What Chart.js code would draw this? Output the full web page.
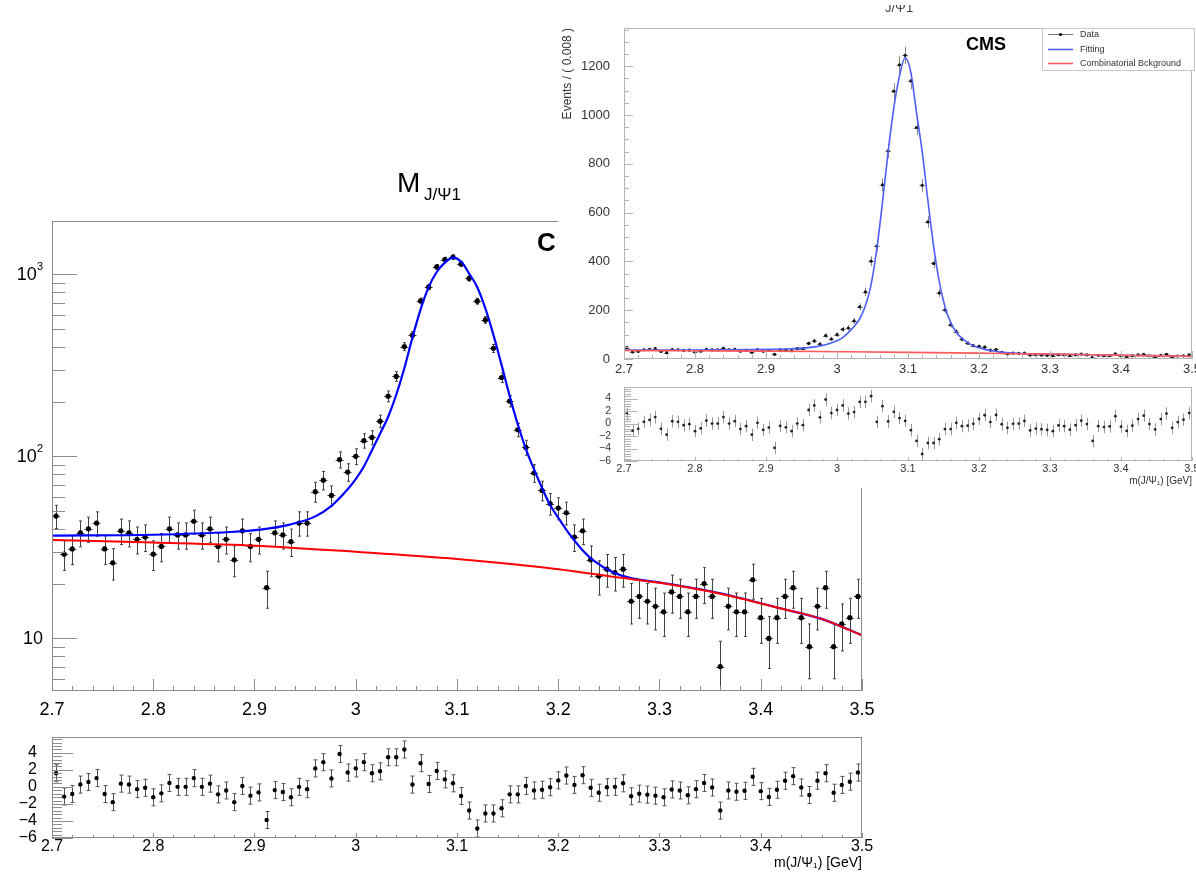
<!DOCTYPE html>
<html>
<head>
<meta charset="utf-8">
<script src="https://cdn.jsdelivr.net/npm/chart.js@4.4.1/dist/chart.umd.min.js"></script>
<style>
  html, body { margin: 0; padding: 0; background: #fff; overflow: hidden; }
  body { width: 1196px; height: 879px; position: relative; }
  .pad { position: absolute; }
  #inset { position: absolute; left: 558px; top: 0; width: 652px; height: 488px; background: #fff; }
</style>
</head>
<body>
<div class="pad" style="left:0;top:0"><canvas id="mainFit" width="900" height="720"></canvas></div>
<div class="pad" style="left:0;top:720px"><canvas id="mainPull" width="900" height="159"></canvas></div>
<div id="inset">
  <div class="pad" style="left:0;top:0"><canvas id="insetFit" width="652" height="380"></canvas></div>
  <div class="pad" style="left:0;top:375px"><canvas id="insetPull" width="652" height="113"></canvas></div>
</div>
<script>
"use strict";

const fontFamily = '"Liberation Sans", Arial, Helvetica, sans-serif';
Chart.defaults.font.family = fontFamily;

// histogram binning of m(J/psi_1)
const massMin = 2.7;
const massMax = 3.5;
const binWidth = 0.008;

// events per bin
const events = [
  47, 29, 31, 38, 40, 43, 31, 26, 39, 38,
  35, 36, 29, 32, 40, 37, 37, 44, 37, 40,
  32, 35, 27, 39, 32, 35, 19, 38, 37, 34,
  43, 43, 64, 74, 61, 96, 82, 100, 122, 127,
  156, 214, 275, 401, 463, 714, 853, 1098, 1206, 1245,
  1140, 949, 712, 562, 392, 271, 201, 140, 112, 81,
  65, 55, 52, 49, 36, 39, 27, 22, 24, 23,
  24, 16, 17, 16, 15, 14, 18, 17, 14, 17,
  20, 17, 7, 15, 14, 14, 21, 13, 10, 13,
  17, 19, 13, 9, 15, 19, 9, 12, 13, 17
];

// pull per bin
const pulls = [
  1.6, -1.14, -0.84, 0.27, 0.57, 1.03, -0.84, -1.79, 0.38, 0.27,
  -0.27, -0.11, -1.22, -0.76, 0.46, 0, 0, 1.03, 0, 0.38,
  -0.88, -0.42, -1.79, 0.11, -1.03, -0.65, -3.89, -0.38, -0.61, -1.22,
  0, -0.27, 2.17, 2.9, 0.99, 3.85, 1.68, 2.17, 2.9, 1.6,
  1.83, 3.47, 3.47, 4.38, 0.27, 2.78, 0.34, 1.87, 0.88, 0.42,
  -1.07, -2.78, -4.88, -3.12, -3.12, -2.51, -0.88, -0.88, 0.11, -0.42,
  -0.34, -0.04, 0.76, 1.33, 0.23, 1.37, -0.11, -0.69, -0.04, 0,
  0.42, -1.1, -0.8, -0.91, -1.03, -1.22, -0.3, -0.42, -0.99, -0.27,
  0.46, -0.08, -2.78, -0.42, -0.57, -0.46, 1.18, -0.5, -1.18, -0.34,
  0.72, 1.26, -0.08, -0.95, 0.72, 1.6, -0.69, 0.23, 0.61, 1.68
];

// total fit curve
const fitMass = [
  2.70, 2.80, 2.876, 2.906, 2.935, 2.96, 2.976, 2.992, 3.000, 3.008,
  3.016, 3.024, 3.032, 3.040, 3.048, 3.056, 3.064, 3.072, 3.080, 3.088,
  3.096, 3.104, 3.112, 3.120, 3.128, 3.136, 3.144, 3.152, 3.160, 3.168,
  3.176, 3.184, 3.192, 3.200, 3.208, 3.216, 3.224, 3.234, 3.254, 3.274,
  3.30, 3.36, 3.42, 3.46, 3.50
];
const fitEvents = [
  36.7, 37.1, 38.4, 39.6, 42.2, 46.8, 53.5, 66, 75, 88,
  108, 133, 165, 218, 305, 450, 640, 850, 1030, 1160,
  1235, 1175, 1010, 850, 650, 465, 318, 215, 150, 110,
  85, 67, 54, 46, 39.5, 34.5, 30.5, 27, 23.1, 21.3,
  20.3, 17.7, 14.6, 12.8, 10.4
];

// combinatorial background curve
const bkgMass = [2.70, 2.80, 2.90, 3.00, 3.10, 3.20, 3.26, 3.30, 3.36, 3.42, 3.46, 3.50];
const bkgEvents = [34.7, 33.6, 32.3, 29.9, 27.3, 24.0, 21.6, 20.2, 17.6, 14.6, 12.8, 10.4];

// axis ticks
const massTicks = [2.7, 2.8, 2.9, 3.0, 3.1, 3.2, 3.3, 3.4, 3.5];
const massTickLabels = ["2.7", "2.8", "2.9", "3", "3.1", "3.2", "3.3", "3.4", "3.5"];
const logTicks = [10, 100, 1000];
const logTickExponents = ["", "2", "3"];
const linearEventTicks = [0, 200, 400, 600, 800, 1000, 1200];
const pullTicks = [-6, -4, -2, 0, 2, 4];

function steps(from, to, step) {
  const out = [];
  for (let v = from; v <= to + 1e-9; v += step) out.push(+v.toFixed(6));
  return out;
}

const binCenters = events.map((_, i) => massMin + binWidth * (i + 0.5));
const dataPoints = binCenters.map((m, i) => ({ x: m, y: events[i] }));
const pullPoints = binCenters.map((m, i) => ({ x: m, y: pulls[i] }));
const fitPoints = fitMass.map((m, i) => ({ x: m, y: fitEvents[i] }));
const bkgPoints = bkgMass.map((m, i) => ({ x: m, y: bkgEvents[i] }));

const logMinor = [];
for (const d of [1, 10, 100]) for (let k = 2; k <= 9; k++) logMinor.push(k * d);

const minusSign = (v) => String(v).replace("-", "\u2212");

// frame box and inward ROOT-style ticks
function frameAndTicks(spec) {
  return {
    id: "frameAndTicks",
    afterDatasetsDraw(chart) {
      const { ctx, chartArea: a, scales: { x, y } } = chart;
      ctx.save();
      ctx.lineWidth = 1;
      ctx.strokeStyle = spec.tickColor;
      ctx.beginPath();
      const xTick = (v, len) => {
        if (v < x.min || v > x.max) return;
        const px = Math.round(x.getPixelForValue(v)) + 0.5;
        ctx.moveTo(px, a.bottom);
        ctx.lineTo(px, a.bottom - len);
      };
      const yTick = (v, len) => {
        if (v < y.min || v > y.max) return;
        const py = Math.round(y.getPixelForValue(v)) + 0.5;
        ctx.moveTo(a.left, py);
        ctx.lineTo(a.left + len, py);
      };
      spec.xMinor.forEach((v) => xTick(v, spec.xMinorLen));
      spec.xMajor.forEach((v) => xTick(v, spec.xMajorLen));
      spec.yMinor.forEach((v) => yTick(v, spec.yMinorLen));
      spec.yMajor.forEach((v) => yTick(v, spec.yMajorLen));
      ctx.stroke();
      ctx.strokeStyle = spec.frameColor;
      ctx.strokeRect(Math.round(a.left) + 0.5, Math.round(a.top) + 0.5,
        Math.round(a.right - a.left) - 1, Math.round(a.bottom - a.top) - 1);
      ctx.restore();
    },
  };
}

// vertical (and optional horizontal) error bars under the markers
function errorBars(style) {
  return {
    id: "errorBars",
    beforeDatasetsDraw(chart) {
      const { ctx, chartArea: a, scales: { x, y } } = chart;
      ctx.save();
      ctx.beginPath();
      ctx.rect(a.left, a.top, a.right - a.left, a.bottom - a.top);
      ctx.clip();
      ctx.strokeStyle = style.color;
      ctx.lineWidth = style.width;
      ctx.beginPath();
      chart.data.datasets.forEach((ds) => {
        if (!ds.yErr) return;
        ds.data.forEach((p, i) => {
          const px = Math.round(x.getPixelForValue(p.x)) + 0.5;
          const hi = p.y + ds.yErr[i];
          const lo = p.y - ds.yErr[i];
          const top = y.getPixelForValue(Math.min(hi, y.max));
          const bot = y.getPixelForValue(Math.max(lo, y.min));
          ctx.moveTo(px, top);
          ctx.lineTo(px, bot);
          if (style.cap) {
            if (hi <= y.max) { ctx.moveTo(px - style.cap, top); ctx.lineTo(px + style.cap, top); }
            if (lo >= y.min) { ctx.moveTo(px - style.cap, bot); ctx.lineTo(px + style.cap, bot); }
          }
          if (ds.xErr) {
            const py = Math.round(y.getPixelForValue(p.y)) + 0.5;
            ctx.moveTo(x.getPixelForValue(p.x - ds.xErr), py);
            ctx.lineTo(x.getPixelForValue(p.x + ds.xErr), py);
          }
        });
      });
      ctx.stroke();
      ctx.restore();
    },
  };
}

// free text on a pad
function padText(items) {
  return {
    id: "padText",
    afterDraw(chart) {
      const ctx = chart.ctx;
      items.forEach((t) => {
        ctx.save();
        if (t.clip) {
          ctx.beginPath();
          ctx.rect(t.clip[0], t.clip[1], t.clip[2], t.clip[3]);
          ctx.clip();
        }
        ctx.fillStyle = t.color || "#000";
        ctx.font = t.font;
        ctx.textAlign = t.align || "left";
        ctx.textBaseline = t.baseline || "alphabetic";
        ctx.translate(t.x, t.y);
        if (t.rotate) ctx.rotate(t.rotate);
        ctx.fillText(t.text, 0, 0);
        ctx.restore();
      });
    },
  };
}

// 10^n labels of the log axis
const logLabels = {
  id: "logLabels",
  afterDraw(chart) {
    const { ctx, scales: { y } } = chart;
    ctx.save();
    ctx.fillStyle = "#000";
    ctx.textBaseline = "middle";
    logTicks.forEach((v, i) => {
      const py = y.getPixelForValue(v);
      const right = 43;
      ctx.font = "11px " + fontFamily;
      const supW = ctx.measureText(logTickExponents[i]).width;
      ctx.textAlign = "left";
      ctx.fillText(logTickExponents[i], right - supW, py - 7);
      ctx.font = "18px " + fontFamily;
      ctx.textAlign = "right";
      ctx.fillText("10", right - supW, py + 1);
    });
    ctx.restore();
  },
};

// legend box of the linear pad
const insetLegend = {
  id: "insetLegend",
  afterDraw(chart) {
    const ctx = chart.ctx;
    ctx.save();
    ctx.fillStyle = "#fff";
    ctx.strokeStyle = "#c8c8c8";
    ctx.lineWidth = 1;
    ctx.fillRect(484.5, 28.5, 152, 42);
    ctx.strokeRect(484.5, 28.5, 152, 42);
    const rows = [
      { label: "Data", color: "#777", y: 34.5, dot: true },
      { label: "Fitting", color: "#4d5ff5", y: 49.5 },
      { label: "Combinatorial Bckground", color: "#ff5a5a", y: 63.5 },
    ];
    rows.forEach((r) => {
      ctx.strokeStyle = r.color;
      ctx.lineWidth = r.dot ? 1 : 1.6;
      ctx.beginPath();
      ctx.moveTo(490, r.y);
      ctx.lineTo(515, r.y);
      ctx.stroke();
      if (r.dot) {
        ctx.fillStyle = "#000";
        ctx.beginPath();
        ctx.arc(502.5, r.y, 1.6, 0, Math.PI * 2);
        ctx.fill();
      }
      ctx.fillStyle = "#333";
      ctx.font = "9px " + fontFamily;
      ctx.textBaseline = "middle";
      ctx.fillText(r.label, 522, r.y);
    });
    ctx.restore();
  },
};

function massAxis(fontSize, padding, height, color) {
  return {
    type: "linear",
    min: massMin,
    max: massMax,
    grid: { display: false },
    border: { display: false },
    afterBuildTicks: (s) => { s.ticks = massTicks.map((v) => ({ value: v })); },
    afterFit: (s) => { s.height = height; },
    ticks: {
      autoSkip: false,
      maxRotation: 0,
      padding: padding,
      color: color,
      font: { size: fontSize },
      callback: (v, i) => massTickLabels[i],
    },
  };
}

function valueAxis(type, min, max, tickValues, width, tickStyle) {
  return {
    type: type,
    min: min,
    max: max,
    grid: { display: false },
    border: { display: false },
    afterBuildTicks: (s) => { s.ticks = tickValues.map((v) => ({ value: v })); },
    afterFit: (s) => { s.width = width; },
    ticks: Object.assign({ autoSkip: false, callback: (v) => minusSign(v) }, tickStyle),
  };
}

const baseOptions = {
  responsive: false,
  animation: false,
  devicePixelRatio: 1,
  events: [],
};

// main pad: log scale
new Chart(document.getElementById("mainFit"), {
  type: "scatter",
  data: {
    datasets: [
      { type: "line", data: bkgPoints, borderColor: "#ff0000", borderWidth: 2, pointRadius: 0, cubicInterpolationMode: "monotone" },
      { type: "line", data: fitPoints, borderColor: "#0000ff", borderWidth: 2.2, pointRadius: 0, cubicInterpolationMode: "monotone" },
      { data: dataPoints, yErr: events.map(Math.sqrt), xErr: binWidth / 2, pointRadius: 2.6, pointBackgroundColor: "#000", pointBorderWidth: 0 },
    ],
  },
  options: {
    ...baseOptions,
    layout: { padding: { top: 221, right: 38, left: 0, bottom: 0 } },
    plugins: { legend: { display: false }, tooltip: { enabled: false } },
    scales: {
      x: massAxis(18, 0, 29, "#000"),
      y: valueAxis("logarithmic", 5.14, 1963, logTicks, 52, { display: false }),
    },
  },
  plugins: [
    errorBars({ color: "#444", width: 1, cap: 1.5 }),
    frameAndTicks({
      frameColor: "#8c8c8c", tickColor: "#8c8c8c",
      xMajor: massTicks, xMinor: steps(2.7, 3.5, 0.02), xMajorLen: 12, xMinorLen: 5,
      yMajor: logTicks, yMinor: logMinor, yMajorLen: 25, yMinorLen: 13,
    }),
    logLabels,
    padText([
      { text: "M", x: 397, y: 192, font: "28px " + fontFamily },
      { text: "J/\u03A81", x: 424, y: 200, font: "17px " + fontFamily },
      { text: "CMS", x: 537, y: 251, font: "bold 26px " + fontFamily, clip: [0, 0, 556, 720] },
    ]),
  ],
});

// main pad: pulls
new Chart(document.getElementById("mainPull"), {
  type: "scatter",
  data: {
    datasets: [
      { data: pullPoints, yErr: pulls.map(() => 1), pointRadius: 2.2, pointBackgroundColor: "#000", pointBorderWidth: 0 },
    ],
  },
  options: {
    ...baseOptions,
    layout: { padding: { top: 11, right: 38, left: 0, bottom: 0 } },
    plugins: { legend: { display: false }, tooltip: { enabled: false } },
    scales: {
      x: massAxis(16, -9, 41, "#000"),
      y: valueAxis("linear", -6, 5.9, pullTicks, 52, { padding: 7, color: "#000", font: { size: 16 } }),
    },
  },
  plugins: [
    errorBars({ color: "#555", width: 1, cap: 2 }),
    frameAndTicks({
      frameColor: "#8c8c8c", tickColor: "#8c8c8c",
      xMajor: massTicks, xMinor: steps(2.7, 3.5, 0.02), xMajorLen: 5, xMinorLen: 3,
      yMajor: pullTicks, yMinor: steps(-6, 5.6, 0.4), yMajorLen: 21, yMinorLen: 10,
    }),
    padText([
      { text: "m(J/\u03A8\u2081) [GeV]", x: 862, y: 147, font: "14px " + fontFamily, align: "right" },
    ]),
  ],
});

// linear pad
new Chart(document.getElementById("insetFit"), {
  type: "scatter",
  data: {
    datasets: [
      { type: "line", data: bkgPoints, borderColor: "#ff5a5a", borderWidth: 1.6, pointRadius: 0, cubicInterpolationMode: "monotone" },
      { type: "line", data: fitPoints, borderColor: "#4d5ff5", borderWidth: 1.6, pointRadius: 0, cubicInterpolationMode: "monotone" },
      { data: dataPoints, yErr: events.map(Math.sqrt), xErr: binWidth / 2, pointRadius: 1.6, pointBackgroundColor: "#111", pointBorderWidth: 0 },
    ],
  },
  options: {
    ...baseOptions,
    layout: { padding: { top: 28, right: 18, left: 0, bottom: 0 } },
    plugins: { legend: { display: false }, tooltip: { enabled: false } },
    scales: {
      x: massAxis(13, -5, 21, "#333"),
      y: valueAxis("linear", 0, 1357, linearEventTicks, 66, { padding: 6, color: "#333", font: { size: 13 }, callback: (v) => String(v) }),
    },
  },
  plugins: [
    errorBars({ color: "#888", width: 1, cap: 0 }),
    frameAndTicks({
      frameColor: "#b4b4b4", tickColor: "#b4b4b4",
      xMajor: massTicks, xMinor: steps(2.7, 3.5, 0.02), xMajorLen: 8, xMinorLen: 4,
      yMajor: linearEventTicks, yMinor: steps(0, 1350, 50), yMajorLen: 9, yMinorLen: 5,
    }),
    insetLegend,
    padText([
      { text: "J/\u03A81", x: 327, y: 12, font: "13px " + fontFamily, color: "#444", clip: [0, 5, 652, 20] },
      { text: "CMS", x: 408, y: 50, font: "bold 18px " + fontFamily },
      { text: "Events / ( 0.008 )", x: 10, y: 28, font: "12px " + fontFamily, color: "#333", align: "right", baseline: "middle", rotate: -Math.PI / 2 },
    ]),
  ],
});

// linear pad: pulls
new Chart(document.getElementById("insetPull"), {
  type: "scatter",
  data: {
    datasets: [
      { data: pullPoints, yErr: pulls.map(() => 1), pointRadius: 1.4, pointBackgroundColor: "#222", pointBorderWidth: 0 },
    ],
  },
  options: {
    ...baseOptions,
    layout: { padding: { top: 12, right: 18, left: 0, bottom: 0 } },
    plugins: { legend: { display: false }, tooltip: { enabled: false } },
    scales: {
      x: massAxis(11, -7, 27, "#333"),
      y: valueAxis("linear", -6, 5.85, pullTicks, 66, { padding: 5, color: "#333", font: { size: 10.5 } }),
    },
  },
  plugins: [
    errorBars({ color: "#999", width: 1, cap: 0 }),
    frameAndTicks({
      frameColor: "#b4b4b4", tickColor: "#b4b4b4",
      xMajor: massTicks, xMinor: steps(2.7, 3.5, 0.02), xMajorLen: 4, xMinorLen: 2,
      yMajor: pullTicks, yMinor: steps(-6, 5.6, 0.4), yMajorLen: 14, yMinorLen: 7,
    }),
    padText([
      { text: "m(J/\u03A8\u2081) [GeV]", x: 634, y: 109, font: "10px " + fontFamily, color: "#333", align: "right" },
    ]),
  ],
});
</script>
</body>
</html>
